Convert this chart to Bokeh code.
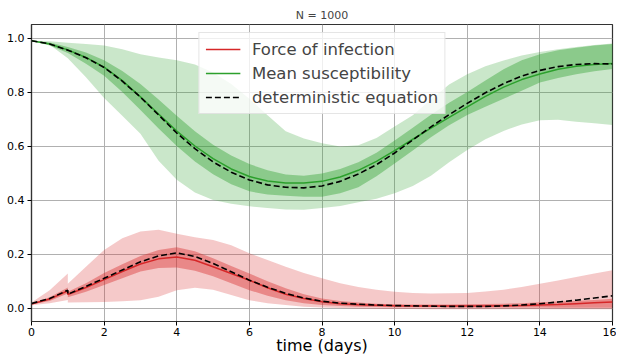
from bokeh.plotting import figure
from bokeh.models import (Range1d, FixedTicker, PrintfTickFormatter, Legend,
                          LegendItem, ColumnDataSource)
from bokeh.embed import file_html
from bokeh.resources import INLINE

# time (days); t=1 appears twice because of the jump in the force of infection
t = [0, 0.5, 1, 1, 1.5, 2, 2.5, 3, 3.5, 4, 4.5, 5, 5.5, 6, 6.5, 7, 7.5, 8,
     8.5, 9, 9.5, 10, 10.5, 11, 11.5, 12, 12.5, 13, 13.5, 14, 14.5, 15, 15.5, 16]

# susceptibility
det_s = [0.990, 0.978, 0.955, 0.955, 0.927, 0.891, 0.840, 0.781, 0.715, 0.648, 0.590, 0.541,
         0.503, 0.474, 0.456, 0.447, 0.445, 0.452, 0.469, 0.496, 0.531, 0.574, 0.622, 0.671,
         0.716, 0.758, 0.797, 0.831, 0.859, 0.880, 0.894, 0.902, 0.905, 0.904]
mean_s = [0.990, 0.978, 0.956, 0.956, 0.928, 0.892, 0.842, 0.782, 0.718, 0.655, 0.600, 0.553,
          0.515, 0.487, 0.470, 0.463, 0.463, 0.469, 0.485, 0.510, 0.543, 0.583, 0.625, 0.666,
          0.706, 0.745, 0.784, 0.818, 0.846, 0.867, 0.884, 0.895, 0.902, 0.906]
s_q75 = [0.990, 0.983, 0.967, 0.967, 0.946, 0.918, 0.878, 0.830, 0.772, 0.712, 0.655, 0.605,
         0.565, 0.533, 0.510, 0.494, 0.490, 0.498, 0.515, 0.540, 0.575, 0.620, 0.668, 0.716,
         0.760, 0.800, 0.843, 0.884, 0.918, 0.940, 0.955, 0.964, 0.972, 0.978]
s_q25 = [0.990, 0.972, 0.944, 0.944, 0.905, 0.860, 0.800, 0.733, 0.665, 0.600, 0.543, 0.495,
         0.458, 0.432, 0.420, 0.416, 0.412, 0.412, 0.425, 0.447, 0.488, 0.535, 0.583, 0.632,
         0.677, 0.715, 0.745, 0.775, 0.805, 0.835, 0.852, 0.866, 0.877, 0.885]
s_hi = [0.990, 0.988, 0.982, 0.982, 0.978, 0.972, 0.958, 0.940, 0.928, 0.918, 0.902, 0.872,
        0.830, 0.775, 0.714, 0.655, 0.628, 0.610, 0.598, 0.603, 0.630, 0.672, 0.714, 0.772,
        0.828, 0.866, 0.895, 0.917, 0.935, 0.948, 0.958, 0.967, 0.974, 0.980]
s_lo = [0.990, 0.975, 0.925, 0.925, 0.855, 0.778, 0.712, 0.645, 0.545, 0.475, 0.428, 0.400,
        0.386, 0.377, 0.370, 0.365, 0.364, 0.370, 0.378, 0.392, 0.405, 0.425, 0.452, 0.490,
        0.540, 0.585, 0.625, 0.656, 0.680, 0.695, 0.697, 0.690, 0.684, 0.678]

# force of infection
det_f = [0.017, 0.035, 0.066, 0.051, 0.080, 0.110, 0.141, 0.171, 0.193, 0.204, 0.191, 0.165,
         0.134, 0.103, 0.077, 0.054, 0.037, 0.025, 0.018, 0.014, 0.011, 0.009, 0.008, 0.007,
         0.006, 0.006, 0.006, 0.008, 0.011, 0.016, 0.022, 0.029, 0.037, 0.045]
mean_f = [0.015, 0.033, 0.064, 0.050, 0.076, 0.105, 0.135, 0.163, 0.182, 0.189, 0.177, 0.153,
          0.128, 0.103, 0.075, 0.051, 0.035, 0.023, 0.016, 0.012, 0.010, 0.008, 0.007, 0.007,
          0.007, 0.007, 0.007, 0.008, 0.009, 0.011, 0.013, 0.016, 0.019, 0.022]
f_q75 = [0.017, 0.040, 0.076, 0.060, 0.092, 0.130, 0.162, 0.193, 0.215, 0.225, 0.210, 0.184,
         0.156, 0.128, 0.099, 0.073, 0.051, 0.035, 0.026, 0.020, 0.016, 0.014, 0.013, 0.013,
         0.013, 0.014, 0.015, 0.016, 0.018, 0.021, 0.024, 0.027, 0.030, 0.034]
f_q25 = [0.013, 0.026, 0.054, 0.040, 0.060, 0.085, 0.110, 0.135, 0.148, 0.150, 0.138, 0.118,
         0.092, 0.066, 0.045, 0.029, 0.018, 0.011, 0.007, 0.005, 0.004, 0.003, 0.003, 0.003,
         0.002, 0.002, 0.002, 0.002, 0.002, 0.002, 0.001, 0.001, 0.001, 0.001]
f_hi = [0.020, 0.066, 0.128, 0.090, 0.153, 0.215, 0.258, 0.283, 0.290, 0.275, 0.262, 0.252,
        0.232, 0.203, 0.178, 0.153, 0.130, 0.110, 0.092, 0.078, 0.068, 0.060, 0.056, 0.054,
        0.055, 0.056, 0.061, 0.068, 0.078, 0.090, 0.102, 0.115, 0.128, 0.140]
f_lo = [0.010, 0.018, 0.030, 0.020, 0.021, 0.022, 0.025, 0.029, 0.042, 0.066, 0.075, 0.068,
        0.048, 0.029, 0.018, 0.011, 0.005, 0.002, 0.000, -0.002, -0.003, -0.004, -0.004, -0.005,
        -0.005, -0.005, -0.005, -0.005, -0.005, -0.005, -0.005, -0.005, -0.005, -0.005]

x_ticks = [0, 2, 4, 6, 8, 10, 12, 14, 16]
y_ticks = [0.0, 0.2, 0.4, 0.6, 0.8, 1.0]

src = ColumnDataSource(dict(t=t, det_s=det_s, mean_s=mean_s, s_q75=s_q75, s_q25=s_q25,
                            s_hi=s_hi, s_lo=s_lo, det_f=det_f, mean_f=mean_f,
                            f_q75=f_q75, f_q25=f_q25, f_hi=f_hi, f_lo=f_lo))

RED = "#d62728"
GREEN = "#2ca02c"
FONT = "DejaVu Sans"

p = figure(width=616, height=358, output_backend="svg", toolbar_location=None,
           x_range=Range1d(0, 16), y_range=Range1d(-0.05, 1.05),
           min_border_left=31, min_border_right=4, min_border_top=24, min_border_bottom=37,
           title="N = 1000")
p.title.text_font = FONT
p.title.text_font_size = "11px"
p.title.text_font_style = "normal"
p.title.align = "center"
p.title.standoff = 5
p.title.offset = 0

# bands
p.varea(x="t", y1="f_lo", y2="f_hi", source=src, fill_color=RED, fill_alpha=0.25)
p.varea(x="t", y1="f_q25", y2="f_q75", source=src, fill_color=RED, fill_alpha=0.4)
p.varea(x="t", y1="s_lo", y2="s_hi", source=src, fill_color=GREEN, fill_alpha=0.25)
p.varea(x="t", y1="s_q25", y2="s_q75", source=src, fill_color=GREEN, fill_alpha=0.4)

r_f = p.line("t", "mean_f", source=src, line_color=RED, line_width=1.5)
r_s = p.line("t", "mean_s", source=src, line_color=GREEN, line_width=1.5)
r_d = p.line("t", "det_s", source=src, line_color="black", line_width=1.6, line_dash="6 3")
p.line("t", "det_f", source=src, line_color="black", line_width=1.6, line_dash="6 3")

# axes & grid
p.xaxis.ticker = FixedTicker(ticks=x_ticks)
p.yaxis.ticker = FixedTicker(ticks=y_ticks)
p.xaxis.formatter = PrintfTickFormatter(format="%d")
p.yaxis.formatter = PrintfTickFormatter(format="%.1f")
for ax in (p.xaxis, p.yaxis):
    ax.major_label_text_font = FONT
    ax.major_label_text_font_size = "11px"
    ax.major_label_text_color = "black"
    ax.major_tick_out = 4
    ax.major_tick_in = 0
    ax.major_tick_line_color = "black"
    ax.minor_tick_line_color = None
    ax.axis_line_color = "#333333"
    ax.axis_line_width = 1.2
    ax.major_label_standoff = 3
p.xaxis.major_label_standoff = 2
p.xaxis.axis_label = "time (days)"
p.xaxis.axis_label_text_font = FONT
p.xaxis.axis_label_text_font_size = "16px"
p.xaxis.axis_label_text_font_style = "normal"
p.xaxis.axis_label_text_color = "black"
p.xaxis.axis_label_standoff = -3
p.xgrid.grid_line_color = "#b0b0b0"
p.ygrid.grid_line_color = "#b0b0b0"
p.xgrid.grid_line_width = 1
p.ygrid.grid_line_width = 1
p.outline_line_color = "#333333"
p.outline_line_width = 1.2
p.outline_line_alpha = 1

legend = Legend(items=[LegendItem(label="Force of infection", renderers=[r_f]),
                       LegendItem(label="Mean susceptibility", renderers=[r_s]),
                       LegendItem(label="deterministic equation", renderers=[r_d])],
                location="top_center")
legend.margin = 8
legend.padding = 6
legend.spacing = 4
legend.label_standoff = 12
legend.glyph_width = 35
legend.glyph_height = 20
legend.label_height = 20
legend.label_text_font = FONT
legend.label_text_font_size = "16.5px"
legend.border_line_color = "#cccccc"
legend.border_line_width = 1
legend.background_fill_alpha = 0.8
p.add_layout(legend)

open("out.html", "w").write(file_html(p, INLINE))
